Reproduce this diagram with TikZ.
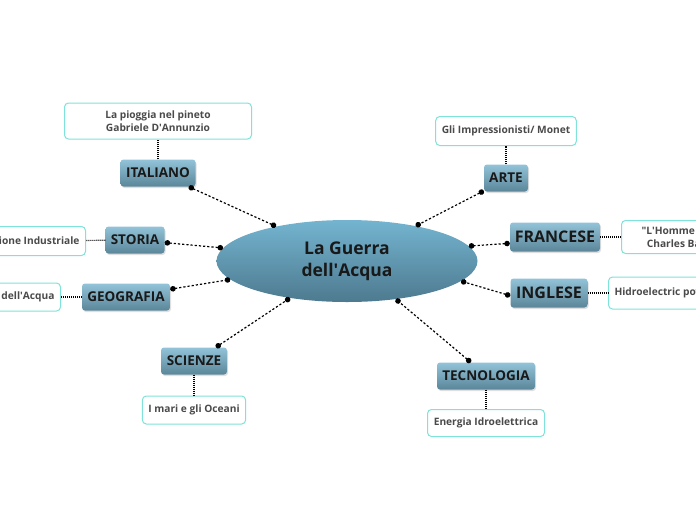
\documentclass[tikz,border=0pt]{standalone}
\usepackage{fontspec}
\setmainfont{Open Sans}
\usetikzlibrary{arrows.meta, shapes.geometric, shadows}

\definecolor{boxtop}{HTML}{92C3D8}
\definecolor{boxbot}{HTML}{5B8699}
\definecolor{hubtop}{HTML}{74B4D0}
\definecolor{hubbot}{HTML}{4D7A8F}
\definecolor{leafline}{HTML}{7FE3DA}
\definecolor{leaftext}{HTML}{4A4A4A}
\newcommand{\apos}{\textquotesingle}

\begin{document}
\begin{tikzpicture}[x=1pt, y=-1pt,
  hub/.style={ellipse, inner sep=0pt, minimum width=261pt, minimum height=82pt,
    top color=hubtop, bottom color=hubbot, align=center,
    font=\bfseries\fontsize{17.5}{22}\selectfont, text=black!90},
  topic/.style={rounded corners=3pt, top color=boxtop, bottom color=boxbot,
    minimum height=27pt, inner sep=0pt, text=black!90,
    font=\bfseries\fontsize{13.5}{16}\selectfont,
    drop shadow={shadow xshift=1pt, shadow yshift=-1.5pt, opacity=0.25}},
  big/.style={font=\bfseries\fontsize{16}{18}\selectfont, minimum height=29pt},
  leaf/.style={draw=leafline, line width=1pt, rounded corners=4pt, fill=white,
    align=center, text=leaftext, inner xsep=6pt,
    font=\bfseries\fontsize{10.2}{13.5}\selectfont},
  link/.style={line width=1.2pt, dash pattern=on 2.2pt off 2pt,
    {Circle[length=5.5pt]}-{Circle[length=5.5pt]}},
  stem/.style={line width=1.2pt, dash pattern=on 1pt off 1pt}]
\clip (0,0) rectangle (696,520);

% centre
\node[hub] (hub) at (347,261) {La Guerra\\dell\apos Acqua};

% subjects
\node[topic, minimum width=75pt] (ital) at (158,173) {ITALIANO};
\node[topic, minimum width=59pt] (stor) at (135,240) {STORIA};
\node[topic, minimum width=88pt] (geo) at (126,297) {GEOGRAFIA};
\node[topic, minimum width=66pt] (sci) at (194,361) {SCIENZE};
\node[topic, minimum width=98pt] (tec) at (486,376) {TECNOLOGIA};
\node[topic, minimum width=44pt] (arte) at (506,178) {ARTE};
\node[topic, big, minimum width=90pt] (fra) at (555,237) {FRANCESE};
\node[topic, big, minimum width=77pt] (ing) at (549,293) {INGLESE};

% notes
\node[leaf, minimum width=187pt, minimum height=36pt] (italnote) at (158,121)
  {La pioggia nel pineto\\Gabriele D\apos Annunzio};
\node[leaf, minimum width=140pt, minimum height=29pt] (artenote) at (506,131) {Gli Impressionisti/ Monet};
\node[leaf, minimum height=29pt, anchor=east] (stornote) at (86,241) {Rivoluzione Industriale};
\node[leaf, minimum height=28pt, anchor=east] (geonote) at (61,297) {La Gestione dell\apos Acqua};
\node[leaf, minimum height=33pt, anchor=west, inner xsep=20pt] (franote) at (621,237)
  {\textquotedbl L\apos Homme et la mer\textquotedbl\\Charles Baudelaire};
\node[leaf, minimum height=32pt, anchor=west] (ingnote) at (608,293) {Hidroelectric power};
\node[leaf, minimum width=102pt, minimum height=28pt] (scinote) at (194,410) {I mari e gli Oceani};
\node[leaf, minimum width=117pt, minimum height=27pt] (tecnote) at (486,423) {Energia Idroelettrica};

% links to the centre
\draw[link] (ital.-24) -- (hub.154);
\draw[link] (stor.-5) -- (hub.174);
\draw[link] (geo.10) -- (hub.-171);
\draw[link] (sci.32) -- (hub.-147);
\draw[link] (tec.138) -- (hub.-38);
\draw[link] (arte.210) -- (hub.27);
\draw[link] (fra.188) -- (hub.7);
\draw[link] (ing.184) -- (hub.-10);

% links to the notes
\draw[stem] (ital) -- (italnote);
\draw[stem] (arte) -- (artenote);
\draw[stem] (stor) -- (stornote);
\draw[stem] (geo) -- (geonote);
\draw[stem] (fra) -- (franote);
\draw[stem] (ing) -- (ingnote);
\draw[stem] (sci) -- (scinote);
\draw[stem] (tec) -- (tecnote);
\end{tikzpicture}
\end{document}
